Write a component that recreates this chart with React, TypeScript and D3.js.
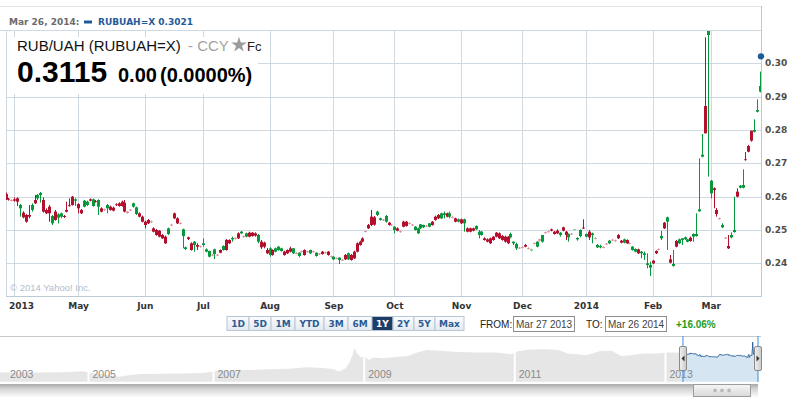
import React, { useMemo } from 'react';
import * as d3 from 'd3';

// ---------- DATA (values in 1/10000 units: [open, high, low, close]) ----------
const mar2013 = [[2608,2612,2590,2592],[2594,2596,2588,2591],[2590,2592,2586,2588]];
const apr2013 = [[2592,2598,2585,2588],[2595,2598,2572,2585],[2565,2578,2540,2575],[2552,2556,2535,2538],[2545,2548,2522,2525],[2545,2575,2535,2540],[2560,2580,2555,2575],[2590,2605,2578,2580],[2595,2608,2590,2605],[2605,2614,2582,2611],[2590,2598,2552,2555],[2560,2565,2548,2550],[2570,2575,2525,2550],[2520,2545,2515,2542],[2555,2560,2528,2530],[2537,2550,2520,2547],[2540,2552,2535,2550],[2542,2545,2536,2539],[2560,2585,2553,2555],[2574,2595,2570,2572],[2600,2602,2573,2575],[2588,2595,2572,2592]];
const may2013 = [[2578,2580,2550,2565],[2560,2563,2548,2550],[2570,2590,2568,2588],[2575,2588,2572,2585],[2592,2595,2586,2588],[2572,2594,2570,2592],[2587,2590,2582,2585],[2570,2592,2545,2590],[2565,2568,2553,2555],[2562,2564,2557,2560],[2565,2578,2550,2575],[2570,2573,2558,2560],[2567,2570,2556,2558],[2577,2580,2572,2575],[2580,2583,2570,2572],[2585,2588,2570,2572],[2582,2590,2553,2555],[2555,2557,2549,2551],[2561,2563,2557,2559],[2570,2582,2567,2580],[2548,2570,2545,2568],[2550,2553,2538,2540],[2540,2543,2523,2525]];
const jun2013 = [[2525,2528,2505,2515],[2530,2533,2518,2520],[2526,2528,2521,2524],[2505,2508,2493,2495],[2500,2503,2483,2485],[2498,2500,2478,2480],[2485,2488,2473,2475],[2480,2483,2458,2460],[2488,2507,2485,2505],[2516,2518,2512,2514],[2550,2552,2533,2535],[2535,2538,2518,2520],[2521,2523,2517,2519],[2482,2504,2445,2502],[2443,2450,2440,2448],[2478,2480,2470,2473],[2460,2463,2438,2440],[2455,2467,2435,2465],[2455,2460,2440,2450],[2451,2453,2447,2449]];
const jul2013 = [[2455,2475,2450,2460],[2435,2445,2433,2442],[2420,2438,2418,2437],[2426,2428,2422,2424],[2428,2444,2413,2442],[2426,2428,2422,2425],[2440,2442,2430,2432],[2440,2454,2438,2452],[2470,2473,2438,2440],[2470,2472,2458,2460],[2472,2480,2465,2476],[2476,2478,2472,2474],[2490,2493,2473,2475],[2490,2497,2488,2495],[2481,2483,2477,2479],[2480,2492,2478,2490],[2492,2495,2478,2480],[2492,2494,2480,2482],[2490,2493,2480,2483],[2465,2488,2460,2485],[2465,2470,2443,2448],[2462,2465,2445,2450],[2440,2446,2428,2430]];
const aug2013 = [[2425,2448,2420,2445],[2440,2442,2423,2425],[2435,2447,2433,2445],[2440,2452,2438,2450],[2437,2447,2435,2445],[2435,2438,2423,2425],[2440,2442,2428,2430],[2445,2450,2433,2435],[2430,2446,2428,2445],[2431,2433,2427,2429],[2422,2433,2418,2432],[2436,2438,2432,2434],[2440,2442,2423,2425],[2436,2438,2432,2434],[2430,2441,2428,2440],[2436,2438,2432,2434],[2422,2433,2420,2432],[2429,2431,2425,2427],[2435,2437,2426,2428],[2433,2435,2429,2431],[2435,2437,2423,2425],[2421,2423,2417,2419]];
const sep2013 = [[2412,2421,2410,2420],[2416,2418,2412,2414],[2410,2418,2398,2417],[2411,2413,2407,2409],[2425,2428,2410,2412],[2412,2432,2410,2430],[2425,2428,2408,2410],[2435,2438,2413,2415],[2460,2463,2433,2435],[2465,2468,2453,2455],[2475,2478,2463,2465],[2497,2499,2493,2495],[2515,2518,2503,2505],[2540,2560,2512,2515],[2538,2542,2513,2516],[2545,2558,2542,2555],[2530,2537,2528,2535],[2531,2533,2527,2529],[2525,2545,2522,2542],[2522,2524,2513,2515],[2516,2518,2512,2514]];
const oct2013 = [[2500,2512,2490,2510],[2505,2508,2496,2498],[2496,2498,2492,2494],[2525,2528,2508,2510],[2525,2527,2510,2512],[2521,2523,2517,2519],[2516,2518,2512,2514],[2500,2512,2498,2510],[2490,2507,2488,2505],[2505,2518,2503,2517],[2508,2516,2506,2515],[2513,2515,2509,2511],[2510,2521,2508,2520],[2525,2527,2513,2515],[2540,2543,2528,2530],[2545,2548,2533,2535],[2535,2552,2533,2550],[2545,2555,2535,2550],[2550,2552,2538,2540],[2540,2555,2535,2550],[2539,2541,2535,2537],[2535,2537,2523,2525],[2525,2534,2523,2532]];
const nov2013 = [[2532,2534,2518,2520],[2520,2534,2495,2532],[2505,2508,2493,2495],[2505,2507,2493,2495],[2505,2507,2496,2498],[2502,2514,2500,2512],[2485,2500,2475,2495],[2485,2497,2483,2495],[2475,2478,2468,2470],[2472,2475,2463,2465],[2475,2477,2458,2460],[2480,2482,2468,2470],[2492,2494,2478,2480],[2490,2493,2473,2475],[2482,2485,2468,2470],[2480,2483,2462,2465],[2480,2482,2458,2460],[2478,2492,2475,2488],[2460,2466,2455,2465],[2445,2462,2440,2458],[2447,2449,2443,2445]];
const dec2013 = [[2449,2451,2445,2447],[2455,2458,2448,2450],[2446,2448,2442,2444],[2438,2444,2436,2442],[2461,2463,2457,2459],[2450,2466,2448,2465],[2472,2474,2466,2468],[2465,2485,2462,2485],[2493,2495,2489,2491],[2496,2498,2492,2494],[2502,2504,2496,2498],[2495,2497,2486,2488],[2498,2502,2488,2490],[2485,2494,2480,2492],[2508,2510,2496,2498],[2495,2497,2470,2485],[2478,2490,2465,2488],[2489,2491,2485,2487],[2500,2503,2499,2502],[2472,2478,2468,2476],[2482,2502,2478,2500],[2507,2532,2503,2505]];
const jan2014 = [[2480,2490,2478,2488],[2495,2500,2470,2478],[2485,2492,2460,2490],[2476,2478,2472,2474],[2448,2458,2446,2455],[2448,2456,2445,2452],[2449,2451,2445,2447],[2459,2461,2455,2457],[2460,2470,2458,2468],[2471,2473,2467,2469],[2469,2471,2465,2467],[2485,2488,2473,2475],[2468,2470,2460,2462],[2462,2474,2460,2472],[2470,2472,2458,2460],[2461,2463,2457,2459],[2440,2452,2438,2450],[2435,2445,2433,2443],[2442,2444,2428,2430],[2430,2437,2415,2435],[2425,2435,2410,2430],[2395,2430,2385,2400],[2387,2405,2362,2395]];
const feb2014 = [[2408,2410,2398,2400],[2437,2439,2428,2430],[2443,2445,2439,2441],[2475,2497,2470,2482],[2522,2524,2503,2505],[2525,2540,2440,2538],[2412,2425,2400,2402],[2392,2440,2390,2398],[2467,2470,2448,2450],[2460,2474,2458,2472],[2470,2476,2455,2475],[2473,2480,2470,2478],[2465,2473,2463,2472],[2477,2480,2465,2467],[2480,2490,2465,2488],[2482,2550,2480,2488],[2556,2715,2555,2562],[2720,2788,2718,2726],[2872,3078,2790,2790],[3085,3097,2660,3097]];
const mar2014 = [[2610,2650,2595,2648],[2625,2628,2565,2620],[2560,2566,2540,2548],[2535,2537,2531,2533],[2508,2520,2506,2515],[2477,2479,2473,2475],[2452,2485,2443,2445],[2478,2493,2475,2485],[2494,2600,2492,2500],[2615,2625,2598,2600],[2627,2635,2625,2633],[2627,2682,2625,2635],[2712,2734,2708,2710],[2752,2755,2733,2735],[2798,2798,2765,2768],[2795,2832,2793,2800],[2855,2892,2853,2860],[2915,2975,2913,2932]];

const monthBlocks = [mar2013, apr2013, may2013, jun2013, jul2013, aug2013, sep2013, oct2013, nov2013, dec2013, jan2014, feb2014, mar2014];

const rangeStart = '2013-03-27';
const rangeEnd = '2014-03-26';
const yTicks = [0.24, 0.25, 0.26, 0.27, 0.28, 0.29, 0.30];
const monthNames = ['Jan','Feb','Mar','Apr','May','Jun','Jul','Aug','Sep','Oct','Nov','Dec'];
const buttonLabels = ['1D','5D','1M','YTD','3M','6M','1Y','2Y','5Y','Max'];
const selectedButton = '1Y';
const symbol = 'RUBUAH=X';
const pairName = 'RUB/UAH';
const lastQuote = 0.3021;
const headerDate = 'Mar 26, 2014:';
const bigQuote = '0.3115';
const changeAbs = '0.00';
const changePct = '(0.0000%)';
const fromText = 'Mar 27 2013';
const toText = 'Mar 26 2014';
const periodChange = '+16.06%';
const navYears = [2003, 2005, 2007, 2009, 2011, 2013];

const navHistDates = ['2003-08-01','2004-02-01','2004-08-01','2004-12-01','2005-02-01','2005-05-01','2005-07-01','2005-09-01','2005-11-01','2006-03-01','2006-07-01','2006-11-01','2007-02-01','2007-06-01','2007-10-01','2008-01-01','2008-04-01','2008-06-15','2008-08-01','2008-09-01','2008-10-01','2008-10-20','2008-11-05','2008-11-15','2008-11-25','2008-12-15','2009-01-05','2009-01-25','2009-02-15','2009-04-01','2009-06-01','2009-08-01','2009-09-15','2009-11-01','2010-01-01','2010-04-01','2010-07-01','2010-10-01','2010-12-15','2011-01-15','2011-03-15','2011-06-01','2011-08-01','2011-09-15','2011-11-01','2011-12-15','2012-02-15','2012-04-15','2012-06-01','2012-07-15','2012-09-15','2012-11-15','2013-01-15','2013-03-20'];
const navHistValues = [0.172,0.172,0.173,0.177,0.167,0.160,0.153,0.160,0.165,0.166,0.167,0.169,0.181,0.183,0.186,0.189,0.196,0.192,0.188,0.176,0.190,0.215,0.250,0.284,0.262,0.240,0.243,0.228,0.240,0.236,0.242,0.246,0.262,0.274,0.270,0.265,0.262,0.262,0.255,0.268,0.276,0.277,0.274,0.258,0.255,0.250,0.268,0.270,0.247,0.250,0.258,0.258,0.262,0.261];

// ---------- STYLE ----------
const GREEN = '#06993b';
const RED = '#b3102e';
const GREEN_LIGHT = '#7cc996';
const RED_LIGHT = '#dc8d9c';
const GRID = '#cfd9e2';
const AXIS = '#bccad6';
const VERD = "'DejaVu Sans', Verdana, sans-serif";
const ARIAL = "'Liberation Sans', Arial, sans-serif";

const parse = d3.timeParse('%Y-%m-%d');

function tradingDays(): Date[] {
  const out: Date[] = [];
  const d = parse(rangeStart)!;
  const end = parse(rangeEnd)!;
  while (d <= end) {
    const wd = d.getDay();
    if (wd !== 0 && wd !== 6) out.push(new Date(d));
    d.setDate(d.getDate() + 1);
  }
  return out;
}

function measure(text: string, font: string): number {
  if (typeof document === 'undefined') return text.length * 6;
  const c = document.createElement('canvas');
  const ctx = c.getContext('2d')!;
  ctx.font = font;
  return ctx.measureText(text).width;
}

export default function App() {
  const rows = useMemo(() => monthBlocks.flat().map(r => r.map(v => v / 10000)), []);
  const N = rows.length;
  const dates = useMemo(() => tradingDays(), []);

  // plot frame
  const L = 6, R = 761, T = 30, B = 296;
  const x = d3.scaleLinear().domain([0, N - 1]).range([5.5, 760]);
  const y = d3.scaleLinear().domain([0.2302, 0.31]).range([B, T]);

  // month ticks
  const ticks: { i: number; label: string; first: boolean }[] = [];
  for (let i = 1; i < Math.min(N, dates.length); i++) {
    if (dates[i].getMonth() !== dates[i - 1].getMonth()) {
      const m = dates[i].getMonth();
      const first = ticks.length === 0;
      ticks.push({ i, label: first || m === 0 ? String(dates[i].getFullYear()) : monthNames[m], first });
    }
  }

  // buttons
  const btnFont = `bold 9px "DejaVu Sans"`;
  let bx = 226.5;
  const buttons = buttonLabels.map(lbl => {
    const w = Math.round(measure(lbl, btnFont) + 8.5);
    const b = { lbl, x: bx, w };
    bx += w;
    return b;
  });

  // navigator
  const navStart = parse('2003-08-01')!;
  const nx = d3.scaleTime()
    .domain([navStart, parse('2005-01-01')!, parse('2007-01-01')!, parse(rangeEnd)!])
    .range([0, 88.5, 213.5, 758]);
  const ny = d3.scaleLinear().domain([0.13, 0.31]).range([381.7, 342]);
  const navHist = navHistDates.map((d, i) => ({ d: parse(d)!, v: navHistValues[i] }));
  const navRecent = rows.map((r, i) => ({ d: dates[Math.min(i, dates.length - 1)], v: r[3] }));
  const navAll = [...navHist, ...navRecent];
  const navArea = d3.area<{ d: Date; v: number }>().x(p => nx(p.d)).y0(381.7).y1(p => ny(p.v));
  const navLine = d3.line<{ d: Date; v: number }>().x(p => nx(p.d)).y(p => ny(p.v));
  const selX0 = nx(dates[0]);
  const selX1 = nx(dates[dates.length - 1]);

  const star = d3.symbol().type(d3.symbolStar).size(75)();

  return (
    <svg width={791} height={399} style={{ position: 'absolute', left: 0, top: 0, background: '#fff' }}
      fontFamily={VERD}>
      <defs>
        <clipPath id="plotClip"><rect x={L} y={T} width={R - L} height={B - T} /></clipPath>
        <clipPath id="selClip"><rect x={selX0} y={336} width={selX1 - selX0} height={46} /></clipPath>
        <linearGradient id="btnGrad" x1="0" y1="0" x2="0" y2="1">
          <stop offset="0" stopColor="#fbfcfd" />
          <stop offset="1" stopColor="#e3e9ef" />
        </linearGradient>
        <linearGradient id="trackGrad" x1="0" y1="0" x2="0" y2="1">
          <stop offset="0" stopColor="#a8a8a8" />
          <stop offset="0.35" stopColor="#d2d2d2" />
          <stop offset="1" stopColor="#fbfbfb" />
        </linearGradient>
        <linearGradient id="thumbGrad" x1="0" y1="0" x2="0" y2="1">
          <stop offset="0" stopColor="#f6f6f6" />
          <stop offset="1" stopColor="#d9d9d9" />
        </linearGradient>
        <linearGradient id="handleGrad" x1="0" y1="0" x2="1" y2="0">
          <stop offset="0" stopColor="#f2f2f2" />
          <stop offset="1" stopColor="#c9c9c9" />
        </linearGradient>
      </defs>

      {/* header */}
      <line x1={0} x2={R} y1={6.5} y2={6.5} stroke="#dde3e8" />
      <text x={9} y={25} fontSize={9} fontWeight="bold" fill="#6b6b6b">{headerDate}</text>
      <rect x={84} y={20.5} width={8} height={3} fill="#1f5b98" />
      <text x={98} y={25} fontSize={9} fontWeight="bold" fill="#1f5b98">{`${symbol} ${lastQuote.toFixed(4)}`}</text>

      {/* grid */}
      <g>
        {yTicks.map(t => (
          <line key={t} x1={L} x2={R} y1={Math.round(y(t)) + 0.5} y2={Math.round(y(t)) + 0.5} stroke={GRID} />
        ))}
        {ticks.map(t => (
          <line key={t.i} x1={Math.round(x(t.i)) + 0.5} x2={Math.round(x(t.i)) + 0.5} y1={T} y2={B} stroke={GRID} />
        ))}
        <line x1={0} x2={R} y1={T + 0.5} y2={T + 0.5} stroke={GRID} />
        <line x1={L + 0.5} x2={L + 0.5} y1={T} y2={B} stroke={GRID} />
        <line x1={L} x2={R} y1={B + 0.5} y2={B + 0.5} stroke={AXIS} />
        <line x1={R + 0.5} x2={R + 0.5} y1={6} y2={B + 1} stroke={AXIS} />
      </g>

      {/* title box */}
      <rect x={L + 1} y={37} width={251} height={57} fill="#fff" />
      <text x={17} y={51} fontFamily={ARIAL} fontSize={15} fill="#111">{`${pairName} (${symbol})`}</text>
      <text x={188} y={51} fontFamily={ARIAL} fontSize={15} fill="#a3a3a3">- CCY</text>
      <path d={star ?? ''} transform="translate(239,45)" fill="#9b9b9b" />
      <text x={247} y={51} fontFamily={ARIAL} fontSize={13} fill="#222">Fc</text>
      <text x={17} y={82} fontFamily={ARIAL} fontSize={30} fontWeight="bold" fill="#000">{bigQuote}</text>
      <text x={118} y={82} fontFamily={ARIAL} fontSize={20} fontWeight="bold" fill="#000">{changeAbs}</text>
      <text x={160} y={82} fontFamily={ARIAL} fontSize={20} fontWeight="bold" fill="#000">{changePct}</text>

      {/* candles */}
      <g clipPath="url(#plotClip)">
        {rows.map((r, i) => {
          const [o, h, l, c] = r;
          const up = c >= o;
          const small = (h - l) < 0.0008;
          const col = up ? (small ? GREEN_LIGHT : GREEN) : (small ? RED_LIGHT : RED);
          const cx = Math.round(x(i));
          const yt = y(Math.max(o, c));
          const yb = y(Math.min(o, c));
          return (
            <g key={i}>
              <line x1={cx + 0.5} x2={cx + 0.5} y1={y(h)} y2={y(l)} stroke={col} strokeWidth={1} />
              <rect x={cx - 1} y={yt} width={3} height={Math.max(yb - yt, 0.8)} fill={col} />
            </g>
          );
        })}
      </g>
      <circle cx={x(N - 1) + 1} cy={y(lastQuote)} r={3.2} fill="#1f5b98" />

      {/* y axis labels */}
      {yTicks.map(t => (
        <text key={t} x={765} y={y(t)} dy="0.35em" fontSize={9} fontWeight="bold" fill="#4d4d4d">{t.toFixed(2)}</text>
      ))}
      {/* x axis labels */}
      {ticks.map(t => (
        <text key={t.i} x={t.first ? 9 : x(t.i) + 0.5} y={309} fontSize={9} fontWeight="bold" fill="#333"
          textAnchor={t.first ? 'start' : 'middle'}>{t.label}</text>
      ))}
      <text x={10} y={291} fontFamily={ARIAL} fontSize={9.5} fill="#b3bccb">© 2014 Yahoo! Inc.</text>

      {/* range buttons */}
      {buttons.map(b => {
        const sel = b.lbl === selectedButton;
        return (
          <g key={b.lbl}>
            <rect x={b.x + 0.5} y={316.5} width={b.w} height={14} fill={sel ? '#1d3c66' : 'url(#btnGrad)'} stroke="#b7c5d4" />
            <text x={b.x + 0.5 + b.w / 2} y={327} textAnchor="middle" fontSize={9} fontWeight="bold"
              fill={sel ? '#fff' : '#2c5b94'}>{b.lbl}</text>
          </g>
        );
      })}
      <text x={480} y={327.5} fontFamily={ARIAL} fontSize={10} fill="#222">FROM:</text>
      <rect x={513.5} y={316.5} width={61} height={15} fill="#fff" stroke="#8d8d8d" />
      <text x={516} y={327.5} fontFamily={ARIAL} fontSize={10} fill="#444">{fromText}</text>
      <text x={586} y={327.5} fontFamily={ARIAL} fontSize={10} fill="#222">TO:</text>
      <rect x={605.5} y={316.5} width={61} height={15} fill="#fff" stroke="#8d8d8d" />
      <text x={608} y={327.5} fontFamily={ARIAL} fontSize={10} fill="#444">{toText}</text>
      <text x={676} y={327.5} fontFamily={ARIAL} fontSize={10} fontWeight="bold" fill="#1e9c1e">{periodChange}</text>

      {/* navigator */}
      <line x1={0} x2={R} y1={336.5} y2={336.5} stroke="#c8c8c8" />
      <path d={navArea(navAll) ?? ''} fill="#e6e6e6" />
      <g clipPath="url(#selClip)">
        <rect x={selX0} y={337} width={selX1 - selX0} height={45} fill="#fff" />
        <path d={navArea(navAll) ?? ''} fill="#d5e5f2" />
        <path d={navLine(navRecent) ?? ''} fill="none" stroke="#2f67a0" strokeWidth={1} />
      </g>
      {navYears.map((yr, k) => {
        const xx = k === 0 ? 6 : nx(new Date(yr, 0, 1));
        return (
          <g key={yr}>
            {k > 0 && <line x1={xx} x2={xx} y1={337} y2={382} stroke="#fff" strokeWidth={2} />}
            <text x={xx + 4} y={377.5} fontFamily={ARIAL} fontSize={10.5} fill="#8a8a8a">{yr}</text>
          </g>
        );
      })}
      <line x1={selX0} x2={selX0} y1={336} y2={382} stroke="#3b8fdc" />
      <line x1={selX1} x2={selX1} y1={336} y2={382} stroke="#3b8fdc" />
      {[selX0, selX1].map((hx, k) => (
        <g key={k}>
          <rect x={Math.round(hx) - 3.5} y={346.5} width={7} height={24} rx={1.5} fill="url(#handleGrad)" stroke="#8a8a8a" />
          <path d={k === 0
            ? `M${Math.round(hx) - 1.5},358.5 L${Math.round(hx) + 1.5},355.5 L${Math.round(hx) + 1.5},361.5 Z`
            : `M${Math.round(hx) + 1.5},358.5 L${Math.round(hx) - 1.5},355.5 L${Math.round(hx) - 1.5},361.5 Z`}
            fill="#333" />
        </g>
      ))}
      {/* scrollbar */}
      <rect x={0} y={384} width={selX1} height={13} fill="url(#trackGrad)" />
      <rect x={693.5} y={384.5} width={57} height={12} fill="url(#thumbGrad)" stroke="#9c9c9c" />
      {[-7, 0, 7].map(d => (
        <circle key={d} cx={722 + d} cy={390.5} r={1.4} fill="#c8c8c8" stroke="#999" strokeWidth={0.6} />
      ))}
    </svg>
  );
}
